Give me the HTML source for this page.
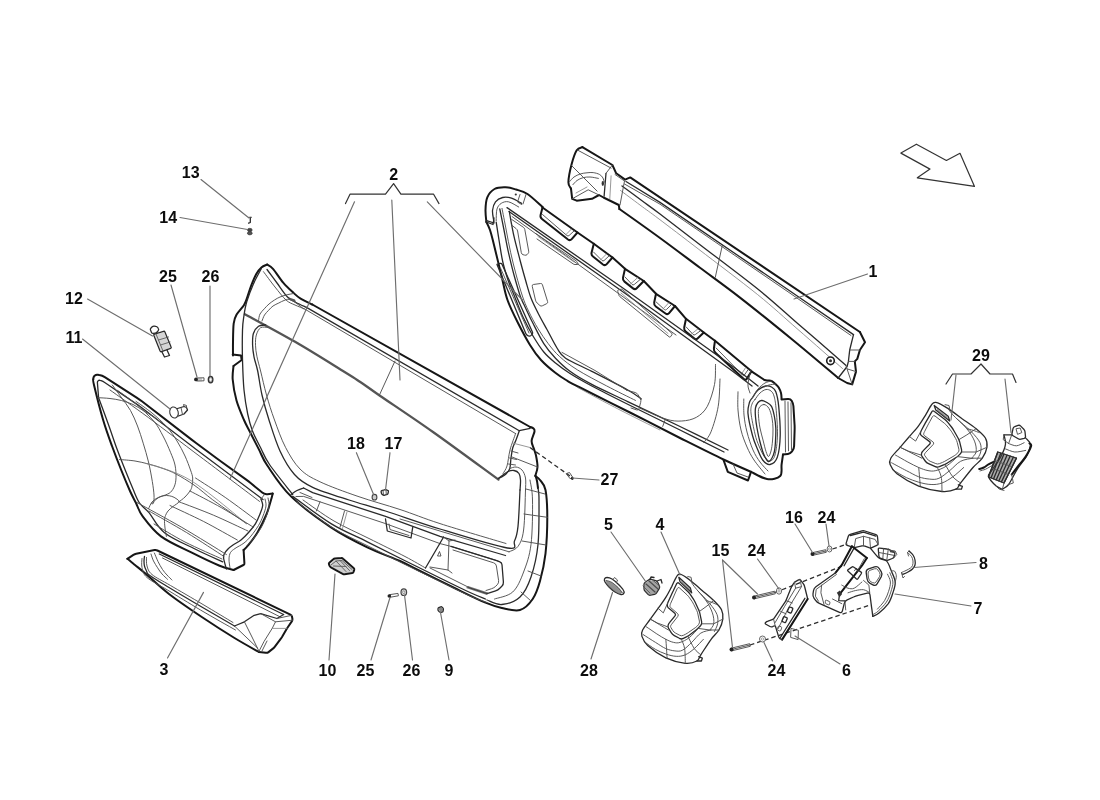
<!DOCTYPE html>
<html lang="en">
<head>
<meta charset="utf-8">
<title>Door panel parts diagram</title>
<style>
html,body{margin:0;padding:0;background:#fff;}
body{width:1100px;height:800px;overflow:hidden;font-family:"Liberation Sans",sans-serif;}
svg{display:block;filter:blur(0.45px);}
.o,.m,.t,.g,.l,.b,.d{fill:none;stroke-linecap:round;stroke-linejoin:round;}
.o{stroke:#161616;stroke-width:2;}
.m{stroke:#2a2a2a;stroke-width:1.3;}
.t{stroke:#505050;stroke-width:0.95;}
.g{stroke:#858585;stroke-width:0.85;}
.l{stroke:#6e6e6e;stroke-width:1.15;}
.b{stroke:#333;stroke-width:1.2;}
.d{stroke:#2e2e2e;stroke-width:1.3;stroke-dasharray:4.5 3;stroke-linecap:butt;}
.f{fill:#333;stroke:#222;stroke-width:0.8;}
.w{fill:#fff;}
text{font-family:"Liberation Sans",sans-serif;font-weight:bold;font-size:16px;fill:#0c0c0c;}
</style>
</head>
<body>
<svg width="1100" height="800" viewBox="0 0 1100 800">
<rect x="0" y="0" width="1100" height="800" fill="#ffffff"/>
<path class="b" d="M900.9 153.1 L916.4 144.2 L946.4 160.5 L960 153.3 L974.5 186.4 L917.3 177.8 L930 169.1Z"/>
<path class="o" d="M93.2 379.5 L93.4 378 Q93.6 376.5 94.8 375.6 L94.8 375.6 Q96 374.6 97.5 374.8 L99.3 375.1 Q102.3 375.5 104.8 377.1 L137 397.9 Q139.5 399.5 141.9 401.3 L191.6 439.6 Q194 441.4 196.4 443.2 L216.6 458.2 Q219 460 221.4 461.8 L246.2 479.6 Q248.6 481.4 250.9 483.3 L262.2 492.6 Q264.5 494.5 267.5 494.2 L272.7 493.6"/>
<path class="o" d="M272.7 493.6 C272.4 494.7 272.1 496.5 271 500 C269.9 503.5 268.7 509.1 266.4 514.5 C264.1 520 260.4 527.5 257.3 532.7 C254.2 537.9 250.3 542.6 248 545.5 C245.7 548.4 244.3 549.2 243.6 550"/>
<path class="o" d="M243.6 550 L244.4 563.3 Q244.5 564.5 243.4 565 L233.6 570"/>
<path class="o" d="M93.2 379.5 C93.3 380.4 92.4 378.3 94 385 C95.6 391.7 100 409.3 103 419.5 C106 429.7 108.9 437.5 112 446 C115.1 454.5 118.4 463 121.4 470.5 C124.4 478 127.6 485.6 130 491 C132.4 496.4 133.9 498.8 136 503 C138.1 507.2 138.5 510.8 142.7 516.4 C146.9 522 152.8 530.3 161 536.4 C169.2 542.5 182.1 547.9 191.8 552.7 C201.5 557.6 212 562.6 219 565.5 C226 568.4 231.2 569.2 233.6 570"/>
<path class="m" d="M98.6 397.7 L97.4 382.6 Q97.3 381.5 98.2 380.8 L98.2 380.8 Q99 380 100.1 380.4 L101.1 380.7 Q103 381.4 104.7 382.5 L137.8 404.9 Q139.5 406 141.1 407.2 L192.4 446.5 Q194 447.7 195.6 448.9 L263 499.5"/>
<path class="t" d="M110 390 C116.4 394.6 133.6 406.6 148.6 417.7 C163.6 428.8 181.5 442.6 200 456.5 C218.5 470.4 249.6 493.9 259.5 501.4"/>
<path class="m" d="M98.6 397.7 C100.3 402.2 105.5 416.4 108.6 425 C111.7 433.6 114.1 441.2 117 449 C119.9 456.8 123.3 465.3 126 472 C128.7 478.7 130.8 483.8 133 489 C135.2 494.2 136.8 499.1 139.5 503 C142.2 506.9 144.8 507.8 149 512.7 C153.2 517.7 156.8 526.7 164.5 532.7 C172.2 538.8 185.3 544.1 195 549 C204.7 553.9 218.1 559.7 222.7 561.8"/>
<path class="m" d="M261 499 C261.3 500.1 262.9 503 262.7 505.5 C262.5 508 261.2 511 260 514 C258.8 517 257.3 520.6 255.5 523.6 C253.7 526.6 251.4 529.3 249 532 C246.6 534.7 243.7 537.8 241 540 C238.3 542.2 235.2 543.5 233 545 C230.8 546.5 229.4 547.6 228 549 C226.6 550.4 225.2 552 224.5 553.5 C223.8 555 223.3 555.4 223.6 558 C223.9 560.6 225.9 567.2 226.4 569"/>
<path class="t" d="M265 499 C265.2 500.2 266.3 503.2 266 506 C265.7 508.8 264.2 512.8 263 516 C261.8 519.2 260.5 522.2 258.5 525.5 C256.5 528.8 253.4 533.1 251 536 C248.6 538.9 246.7 540.9 244 543 C241.3 545.1 237.2 546.9 235 548.5 C232.8 550.1 231.5 550.8 230.5 552.5 C229.5 554.2 229.1 556.4 229 559 C228.9 561.6 229.8 566.5 230 568"/>
<path class="t" d="M268 498 C268.2 499.3 269.3 502.8 269 506 C268.7 509.2 267.3 513.3 266 517 C264.7 520.7 263 524.5 261 528 C259 531.5 256.3 535.1 254 538 C251.7 540.9 248.2 544.2 247 545.5"/>
<path class="t" d="M264.5 494.5 L261 499"/>
<path class="t" d="M112.3 385 C113.8 387 118 392.8 121 397 C124 401.2 127.8 405.7 130.5 410.5 C133.2 415.3 135.4 420.6 137.5 426 C139.6 431.4 141.4 437.2 143.2 443.2 C145 449.2 147 455.6 148.5 462 C150 468.4 151.4 475.9 152.3 481.4 C153.2 486.9 153.8 491.4 154 495 C154.2 498.6 153.9 501.6 153.5 503 C153.1 504.4 152.1 503.5 151.8 503.6"/>
<path class="t" d="M117.7 390.5 C120.8 392.8 129.9 398.9 136 404 C142.1 409.1 149.5 416.1 154 421.4 C158.5 426.7 160.2 430.9 163 436 C165.8 441.1 168.5 447.5 170.5 452.3 C172.5 457.1 174.1 460.8 175 465 C175.9 469.2 176.1 474.2 176 477.7 C175.9 481.2 175.4 483.6 174.5 486 C173.6 488.4 172.2 490.7 170.5 492.3 C168.8 493.9 166.1 494.6 164 495.5 C161.9 496.4 159.7 496.6 157.7 497.7 C155.7 498.8 153.5 500.2 152 502 C150.5 503.8 149.2 507.5 148.6 508.6"/>
<path class="t" d="M136 401.4 C138.7 403.3 146.9 408.8 152 413 C157.1 417.2 162.6 422.1 166.8 426.8 C171 431.5 174 436.1 177 441 C180 445.9 182.8 451.2 185 456 C187.2 460.8 189.2 466.3 190.5 470 C191.8 473.7 192.4 475.3 192.7 478 C192.9 480.7 192.4 483.8 192 486 C191.6 488.2 191.2 489.2 190 491 C188.8 492.8 186.8 495.2 185 497 C183.2 498.8 180 501 179 501.8"/>
<path class="t" d="M97.7 397.7 C99.8 397.8 106 398 110 398.5 C114 399 117.6 399.5 121.4 400.5 C125.2 401.5 129.4 402.8 133 404.5 C136.6 406.2 139.9 408.5 143.2 410.5 C146.5 412.5 150 414.4 153 416.5 C156 418.6 160 421.9 161.4 423"/>
<path class="t" d="M119.5 459.5 C122.1 459.8 130.2 460.2 135 461 C139.8 461.8 143.9 462.8 148.6 464 C153.3 465.2 158.4 466.8 163 468.5 C167.6 470.2 170.8 471.2 176 474 C181.2 476.8 187.9 480.8 194 485 C200.1 489.2 206.3 495 212.3 499.5 C218.3 504 224.3 508 230 512 C235.7 516 243.7 521.7 246.4 523.6"/>
<path class="g" d="M146.4 463.6 C150 464.7 160.7 467.3 168 470 C175.3 472.7 182.2 475.3 190 480 C197.8 484.7 205.6 490.7 215 498 C224.4 505.3 241.2 519.3 246.4 523.6"/>
<path class="t" d="M151.8 503.6 C152.5 502.9 154.5 500.7 156 499.5 C157.5 498.3 159.2 497.1 161 496.4 C162.8 495.7 164.7 495.5 166.5 495.5 C168.3 495.5 170.2 495.9 171.8 496.4 C173.4 496.9 174.8 497.6 176 498.5 C177.2 499.4 179.5 500.5 179 501.8 C178.5 503.1 174.8 505 173 506.5 C171.2 508 169.2 509.5 168 511 C166.8 512.5 166.1 514 165.5 515.5 C164.9 517 164.6 517.9 164.5 520 C164.4 522.1 164.7 525.3 165 528 C165.3 530.7 166.2 535 166.4 536.4"/>
<path class="t" d="M137.3 502.7 C144.7 506.8 167 518.8 181.9 527.4 C196.7 536 219 550 226.4 554.5"/>
<path class="t" d="M149 511 C155.2 514.6 174 525 186.5 532.5 C199 540.1 217.8 552.5 224 556.5"/>
<path class="t" d="M170 505.5 C175.6 508.2 192.4 515.8 203.7 521.5 C214.9 527.3 231.7 536.9 237.3 540"/>
<path class="t" d="M179 501.8 C184.8 504 202 510.3 213.5 515.2 C225 520.1 242.2 528.4 248 531"/>
<path class="t" d="M190 491 C195.3 493.8 211.2 501.9 221.8 507.9 C232.4 514 248.3 524.1 253.6 527.3"/>
<path class="t" d="M195.5 478 C200.5 481.3 215.7 490.8 225.8 497.8 C235.8 504.8 251 516.3 256 520"/>
<path class="t" d="M154 524 C159.2 527 173.7 536.2 185 542 C196.3 547.8 215.8 556.2 222 559"/>
<path class="o" d="M127.4 558.8 L133.4 554.8 Q134.7 554 136.2 553.7 L154.5 550.1 Q156 549.8 157.4 550.5 L290.4 614.6 Q291.8 615.3 292 616.8 L292.4 618.7 Q292.6 620.2 291.8 621.4 L287.8 627.2 Q287 628.4 286.2 629.7 L282 636.9 Q281.2 638.2 280.3 639.4 L274.7 646.8 Q273.8 648 272.6 648.9 L268.5 652.1 Q267.3 653 265.8 652.8 L259 652"/>
<path class="o" d="M127.4 558.8 C128.7 559.8 132.2 562.7 135 565 C137.8 567.3 138.8 567.9 144.5 572.7 C150.2 577.5 159.4 586.6 169 594 C178.6 601.4 190.9 609.7 201.8 617 C212.7 624.3 225 632.2 234.5 638 C244 643.8 254.9 649.7 259 652"/>
<path class="m" d="M159.3 554 L283.6 614.5"/>
<path class="t" d="M162.5 558 L280.4 617"/>
<path class="m" d="M144.5 556.4 C144.4 557.2 144 559.4 144 561 C144 562.6 144.1 564.5 144.5 566.2 C144.9 567.9 145.7 569.5 146.5 571 C147.3 572.5 145.8 572.5 149.5 575.2 C153.2 578 160.3 582.2 169 587.5 C177.7 592.8 190.9 600.6 201.8 607 C212.7 613.4 229.1 622.8 234.5 626"/>
<path class="m" d="M234.5 626 L244.4 621.8 L254.2 615.3 L260.7 613.6 L277 618.5 L283.6 614.5"/>
<path class="t" d="M146.5 557.5 C146.6 558.9 146.1 563.2 147 566 C147.9 568.8 148.1 571.2 152 574.5 C155.9 577.8 162 580.5 170.5 585.5 C179 590.5 192.6 598.3 203 604.5 C213.4 610.7 228 619.5 233 622.5"/>
<path class="t" d="M142 558.5 C142 560 141.2 564.3 142 567.5 C142.8 570.7 142.8 573.8 147 577.5 C151.2 581.2 158.6 584.6 167.5 590 C176.4 595.4 189.2 603.3 200.5 610 C211.8 616.7 229.7 626.7 235.5 630"/>
<path class="t" d="M151 554 C151.4 555.2 152.4 558.7 153.5 561 C154.6 563.3 156.2 565.6 157.6 567.8 C159 570 160.3 572.1 162 574 C163.7 575.9 166.6 578.4 167.5 579.3"/>
<path class="t" d="M154.4 553 C155 554.4 156.7 558.8 158 561.5 C159.3 564.2 161 567.2 162.5 569.5 C164 571.8 165.4 573.2 167 575 C168.6 576.8 171.2 579.2 172 580"/>
<path class="t" d="M260.7 613.6 L275.5 621.8 L272.2 628.4 L264 641.5 L259 651.3"/>
<path class="t" d="M275.5 621.8 L292.6 620.2"/>
<path class="t" d="M277 618.5 L291.8 615.3"/>
<path class="t" d="M234.5 626 L257.5 648"/>
<path class="t" d="M244.4 621.8 L252 637 L259 651.3"/>
<path class="g" d="M272.2 628.4 L287 628.4"/>
<path class="t" d="M267 641 L262 651"/>
<path class="o" d="M267.2 264.5 C268.2 265.2 270.3 265.8 273 268.8 C275.7 271.8 279.8 278.6 283.2 282.6 C286.6 286.6 290.5 290.1 293.4 292.8 C296.3 295.5 297.5 296.7 300.6 298.6 C303.8 300.6 310.4 303.5 312.3 304.5"/>
<path class="o" d="M312.3 304.5 L530.2 427"/>
<path class="o" d="M530.2 427 C530.8 427.2 532.8 427.8 533.5 428.5 C534.2 429.2 534.8 429.4 534.5 431.5 C534.2 433.6 531.7 438.1 531.6 441 C531.5 443.9 533.3 446.6 534 449 C534.7 451.4 535.4 452.5 536 455.5 C536.6 458.5 537.6 463.6 537.5 467 C537.4 470.4 535.7 474.3 535.3 475.8"/>
<path class="o" d="M267.2 264.5 C266.2 265 263.2 265.8 261.4 267.4 C259.6 269 258 270.9 256.3 273.9 C254.6 276.9 252.8 281.4 251.2 285.5 C249.6 289.6 248 295.3 246.8 298.6 C245.6 301.9 245.6 302.5 243.9 305.2 C242.2 307.9 238.3 311.6 236.6 314.6 C234.9 317.6 234.3 318.8 233.7 323.4 C233.1 328 233.1 337 233 342.3 C232.9 347.6 233 353.2 233 355.4"/>
<path class="o" d="M232.7 354.5 L241 355.5 L241.7 360 L233.5 366"/>
<path class="o" d="M233.5 366 C233.4 368.2 232.2 373.8 232.7 379.5 C233.2 385.2 234.6 393.8 236.5 400.5 C238.4 407.2 241.8 414.8 244 420 C246.2 425.2 247.5 427.1 250 432 C252.5 436.9 256.1 444 259 449.6 C261.9 455.2 262 457.7 267.3 465.5 C272.6 473.3 280.4 486.1 291 496.4 C301.6 506.7 318.3 518.8 331 527.3 C343.7 535.8 355.8 541.7 367.3 547.3 C378.8 552.9 391.6 557.2 400 561 C408.4 564.8 408.9 565.5 418 570 C427.1 574.5 443.2 582.5 454.5 588 C465.8 593.5 477.6 599.4 485.5 602.7 C493.4 606 496.1 606.8 501.8 608 C507.6 609.2 514.9 611.5 520 610 C525.1 608.5 529.4 603.8 532.7 599 C536 594.2 537.9 588.6 540 581 C542.1 573.4 544.3 564.2 545.5 553.6 C546.7 543 547.3 527.9 547.3 517.3 C547.3 506.7 546.7 496.2 545.5 490 C544.3 483.8 541.7 482.3 540 480 C538.3 477.7 536.2 476.7 535.5 476"/>
<path class="o" d="M535.5 476 C535.8 476.8 536.6 479 537 481 C537.4 483 537.8 486.8 538 488"/>
<path class="m" d="M267 269.5 C268.7 271.8 273.6 278.4 277 283 C280.4 287.6 284.3 293.8 287.5 297 C290.7 300.2 292.8 300.8 296 302.5 C299.2 304.2 304.8 306.6 306.5 307.4"/>
<path class="m" d="M306.5 307.4 L519.3 430.7 L530.2 428.3"/>
<path class="t" d="M263.5 271.7 C265.4 274.2 271.2 282.3 275 287 C278.8 291.7 282.7 297 286 300 C289.3 303 291.9 303.5 295 305 C298.1 306.5 302.8 308.2 304.3 308.8"/>
<path class="t" d="M304.3 308.8 L515.6 433.6"/>
<path class="m" d="M519.3 430.7 C518.8 432.2 517.1 437.1 516 440 C514.9 442.9 513.5 445 512.7 448 C511.9 451 511.5 454.6 511 458 C510.5 461.4 510.6 465.8 509.8 468.5 C509 471.2 507.5 472.5 506 474 C504.5 475.5 502.3 476.5 501 477.3 C499.7 478.1 498.5 478.5 498 478.7"/>
<path class="t" d="M515.6 433.6 C514.7 436.3 511.4 444.6 510 450 C508.6 455.4 508.2 462.1 507 466 C505.8 469.9 503.7 472.2 503 473.5"/>
<path class="m" style="stroke:#555;stroke-width:2.3" d="M244.9 314.2 C253.3 318.8 278.5 332.2 295.1 341.8 C311.7 351.4 333.7 365.3 344.6 372 C355.5 378.7 354.4 378.1 360.3 382 C366.2 385.9 367.8 387.4 379.9 395.7 C392 404 413.2 418 433 432 C452.8 446 487.6 471.7 498.5 479.6"/>
<path class="m" d="M498.2 478.6 C499 478 501.4 476.2 503 475 C504.6 473.8 506.2 472.2 508 471.5 C509.8 470.8 512.2 470.2 514 470.5 C515.8 470.8 517.9 471.9 519 473.5 C520.1 475.1 520.3 477.2 520.5 480 C520.7 482.8 520.1 488.3 520 490"/>
<path class="t" d="M509.8 468.5 C510.8 468.2 514 466.8 516 467 C518 467.2 520.4 468.2 522 470 C523.6 471.8 524.9 474.7 525.5 478 C526.1 481.3 525.5 488 525.5 490"/>
<path class="t" d="M509.5 458 L516.5 459.5"/>
<path class="t" d="M511 451 L518 453"/>
<path class="t" d="M508.5 464 L515.5 465"/>
<path class="t" d="M258.5 320.5 C258.8 319.4 259 315.9 260 314 C261 312.1 262.8 310.5 264.3 308.8 C265.8 307.1 267.3 305.5 269 304 C270.7 302.5 272.7 301.2 274.5 300 C276.3 298.8 278.1 297.8 280 297 C281.9 296.2 283.8 295.6 286 295 C288.2 294.4 292.2 293.8 293.4 293.5"/>
<path class="t" d="M262 321 C262.4 320 263.4 316.8 264.5 315 C265.6 313.2 267.2 311.8 268.6 310.3 C270 308.8 271.3 307.2 273 306 C274.7 304.8 277 303.9 278.8 303 C280.6 302.1 282.3 301.1 284 300.5 C285.7 299.9 287 299 289 299.4 C291 299.8 293.6 301.4 296 303 C298.4 304.6 302.2 307.8 303.5 308.8"/>
<path d="M289 297.5 L295 299.5 L296 302 L290.5 300.5Z" fill="#555" stroke="none"/>
<path class="t" d="M395 361 L379.6 394.7"/>
<path class="m" d="M261.4 268.5 C260.1 271.1 255.8 278.5 253.4 284 C251 289.5 248.4 296.2 246.8 301.5 C245.2 306.8 244.6 311.2 243.9 316 C243.2 320.8 242.7 322.7 242.5 330 C242.3 337.3 242.2 350 242.5 360 C242.8 370 243.1 381 244 390 C244.9 399 246.3 407.2 247.7 414 C249.1 420.8 250.3 425.2 252.5 431 C254.7 436.8 258.2 442.9 261 448.5 C263.8 454.1 264.2 456.8 269.5 464.5 C274.8 472.2 288.8 489.5 292.7 494.5"/>
<path class="m" d="M265.7 324.8 C264.5 325.1 260.6 324.9 258.5 326.3 C256.4 327.8 254.4 330.4 253.4 333.5 C252.4 336.6 252.5 341.3 252.6 345.2 C252.7 349.1 253.2 352.5 254 356.8 C254.8 361.1 256.4 364.6 257.7 371 C259 377.4 260.1 386.8 262 395 C263.9 403.2 266 410.7 269 420 C272 429.3 275.8 441.9 280 451 C284.2 460.1 289.1 468.4 294.5 474.5 C299.9 480.6 303.6 483.1 312.7 487.3 C321.8 491.6 336.9 496.1 349 500 C361.1 503.9 370.3 506.2 385.5 511 C400.7 515.8 419.7 522.8 440 529 C460.3 535.2 494.9 546 507.3 548 C519.7 550 512.7 544.6 514.5 541 C516.3 537.4 517.1 534.9 518 526.4 C518.9 517.9 519.7 496.1 520 490"/>
<path class="t" d="M268 327.5 C266.8 327.5 262.6 326.4 260.6 327.7 C258.7 328.9 257.2 332.1 256.3 335 C255.5 337.9 255.4 341.6 255.5 345.2 C255.6 348.8 256.1 352.5 257 356.8 C257.9 361.1 259 364.6 260.6 371 C262.2 377.4 264.2 386.8 266.5 395 C268.8 403.2 271.3 411.3 274.5 420 C277.7 428.7 281.2 439.1 285.5 447.3 C289.8 455.5 294.2 463.2 300 469 C305.8 474.8 310.3 477.2 320 481.8 C329.7 486.4 344.7 491.8 358 496.4 C371.3 501 386.3 505 400 509.5 C413.7 514 422.3 517.9 440 523.6 C457.7 529.3 495 540.2 506 543.5"/>
<path class="t" d="M525.5 490 C525.2 496.7 524.9 520.6 523.6 530 C522.4 539.4 520.4 542.8 518 546.4 C515.6 550 510.5 550.9 509 551.8"/>
<path class="t" d="M509 551.8 L400 519"/>
<path class="m" d="M291 494.5 C292 493.8 294.9 491.6 297 490.5 C299.1 489.4 302.5 488.4 303.6 488"/>
<path class="m" d="M303.6 488 L312.7 492.7 L385.5 516.4 L440 536.4 L505.5 555.5"/>
<path class="t" d="M296 496.5 L303.6 496.4 L385.5 523.6 L440 543.6 L451 546.4 L498 561"/>
<path class="t" d="M300 492.5 L312 497.5"/>
<path class="m" d="M292.7 496.4 C299.1 500.9 318.6 516 331 523.6 C343.4 531.2 355.2 535.7 367.3 541.8 C379.4 547.9 391.5 554 403.6 560 C415.7 566 428.9 572.6 440 578 C451.1 583.4 462.4 589 470 592.5 C477.6 596 482.9 597.9 485.5 599"/>
<path class="t" d="M297 502 C302.8 506.2 320.2 520.2 332 527.5 C343.8 534.8 356 539.9 368 546 C380 552.1 392 558.1 404 564 C416 569.9 429 576.2 440 581.5 C451 586.8 462.2 592.5 470 596 C477.8 599.5 484.2 601.4 487 602.5"/>
<path class="t" d="M303 500 C308.2 503.5 323 514.6 334 521 C345 527.4 357.2 532.6 369 538.5 C380.8 544.4 395.6 551.6 405 556.5 C414.4 561.4 422.1 566.1 425.5 568"/>
<path class="t" d="M320 501.8 L316.4 511"/>
<path class="t" d="M344.5 511 L340 527.3"/>
<path class="g" d="M347 512 L342.5 528.5"/>
<path class="m" d="M385.5 519 L387.3 531 L411 538 L412.7 527.3"/>
<path class="t" d="M389 524 L390 529.5 L409 535.5"/>
<path class="m" d="M451 546.4 L496 560.4 Q498 561 499.9 561.9 L499.9 561.9 Q501.8 562.7 502 564.8 L503.4 582 Q503.6 584.5 501.8 586.3 L499.8 588.2 Q498 590 495.6 590.8 L487 593.6"/>
<path class="t" d="M453 550 L493.6 562.8 Q496 563.5 496.4 566 L498.6 580.5 Q499 583 497.2 584.8 L495.8 586.2 Q494 588 491.6 588.7 L486 590.5"/>
<path class="t" d="M487 593.6 L470 588 L430 568"/>
<path d="M468 586 L488 592.5 L487 595 L466 588Z" fill="#333" stroke="none" opacity="0.7"/>
<path class="m" d="M443.6 537 L425.5 568"/>
<path class="t" d="M449 541 L448 570"/>
<path class="t" d="M443.6 537 L449 541 L455 540"/>
<path class="t" d="M430 567 L448 570 L452 573"/>
<path d="M437.5 556 L439.5 551.5 L441 556Z" fill="none" stroke="#333" stroke-width="0.8"/>
<path class="m" d="M538 488 C538.2 490 539 490.6 539 500 C539 509.4 539.3 531.7 538 544.5 C536.7 557.3 534 568.2 531 577 C528 585.8 524.9 592.4 520 597 C515.1 601.6 507.3 604 501.8 604.5 C496.3 605 489.5 600.8 487 600"/>
<path class="t" d="M530 480 C530.4 483.3 532.3 489.2 532.5 500 C532.7 510.8 532.5 532.5 531 544.5 C529.5 556.5 526.6 564.1 523.6 572 C520.6 579.9 517.6 587.5 512.7 592 C507.9 596.5 497.5 597.8 494.5 599"/>
<path class="t" d="M537.5 467 L512 457"/>
<path class="t" d="M545 494 L526 489"/>
<path class="t" d="M547.3 517.3 L524 514"/>
<path class="t" d="M546 545 L522 541"/>
<path class="t" d="M541 576 L528 571"/>
<path class="t" d="M531 601 L521 592"/>
<path class="b" d="M345.5 203.6 L350 194.2 L385.5 194.2 L393.6 183.6 L400.9 194.2 L433.6 194.2 L439 203.6"/>
<path class="b" d="M946 384 L952.5 374 L971 374 L981 364 L990 374 L1012.5 374 L1016 382.5"/>
<path class="o" d="M859.9 332 L630.2 177.4 L625.1 179.6 L616.2 173.3 L612.4 165 L582.4 147.1"/>
<path class="o" d="M582.4 147.1 C581.5 147.6 578.5 147.4 576.7 150.3 C574.9 153.2 573 159 571.6 164.3 C570.2 169.6 568.5 178.1 568.4 182.2 C568.3 186.2 570.6 187.5 571 188.6"/>
<path class="o" d="M571 188.6 L572.2 198.8 L576.7 200.7 L592 198.8 L599 195 L603.5 197.5 L618.8 205 L619.4 209"/>
<path class="o" d="M619.4 209 C626.2 213.8 646.6 228.2 660 238 C673.4 247.8 686.7 257.9 700 267.8 C713.3 277.7 724.8 285.8 740 297.6 C755.2 309.4 774.6 325.1 791 338.5 C807.4 351.9 830.3 371.4 838.2 378"/>
<path class="o" d="M859.9 332 L865 342.3 L859.9 350 L857.3 358.9 L854.8 361.4 L856 371.6 L852.2 384.4 L847.1 383 L838.2 378"/>
<path class="m" d="M626 181.5 L660 202.4 L788.5 290 L853.5 334.6"/>
<path class="t" d="M624.5 184 L660 204.2 L788 291.8 L851 335.5"/>
<path class="m" d="M622 186 C625.2 188.3 634.7 195.3 641 200 C647.3 204.7 650.2 206.6 660 214 C669.8 221.4 683.5 232 700 244.7 C716.5 257.4 742.3 276.5 759 290 C775.7 303.5 785.5 313 800 325.5 C814.5 338 838.2 358.6 845.8 365.2"/>
<path class="g" d="M620.5 190.5 C623.8 192.9 633.6 200.2 640 205 C646.4 209.8 649.2 211.6 659 219 C668.8 226.4 682.6 236.9 699 249.5 C715.4 262.1 741 281.2 757.5 294.5 C774 307.8 783.8 317.2 798 329.5 C812.2 341.8 835.1 362 842.5 368.5"/>
<path class="t" d="M722.5 244.5 L715.3 277.3"/>
<path class="t" d="M578 150.3 L611.1 168.1"/>
<path class="t" d="M569.7 181.5 C570.4 180.8 572.2 178.3 574 177 C575.8 175.7 578.3 174.6 580.5 173.9 C582.7 173.2 584.9 173 587 172.8 C589.1 172.6 591.1 172.3 593.2 172.6 C595.3 172.9 598 173.6 599.6 174.5 C601.2 175.4 602.2 176.7 603 178 C603.8 179.3 603.9 181.5 604.1 182.2"/>
<path class="t" d="M572.9 184.7 C573.6 184 575.3 181.7 577 180.5 C578.7 179.3 580.8 178.3 583 177.7 C585.2 177.1 587.4 176.9 590 177 C592.6 177.1 597 178.2 598.4 178.4"/>
<path class="t" d="M571.6 165.6 L597.1 191.1"/>
<path class="t" d="M572.2 198.8 L588.2 189.8 L599 195"/>
<path class="g" d="M576 193 L587 187"/>
<path class="m" d="M606 173.3 L604.1 196.2"/>
<path class="g" d="M611.1 175.8 L609.8 198.8"/>
<path class="t" d="M612.4 165 L606 173.3"/>
<path class="t" d="M615 174.5 L624.5 181"/>
<path class="t" d="M624.5 181 L620 205"/>
<ellipse cx="602.8" cy="183.5" rx="1.2" ry="2.4" fill="#333"/>
<path class="m" d="M853.5 334.6 L849.7 350 L848.4 361.4 L847.1 366.5 L838.2 378"/>
<path class="t" d="M849.7 350 L859.9 350"/>
<path class="t" d="M848.4 361.4 L854.8 361.4"/>
<path class="t" d="M847.5 369 L856 371.6"/>
<path class="t" d="M845.8 365.2 L852.2 384.4"/>
<circle cx="830.5" cy="360.8" r="3.8" fill="#fff" stroke="#1c1c1c" stroke-width="1.6"/>
<circle cx="830.5" cy="360.8" r="1.5" fill="#333"/>
<path class="o" d="M486.4 222 C486.2 220 485.4 214.1 485.5 210 C485.6 205.9 485.8 200.8 487.3 197.3 C488.8 193.8 491.5 190.7 494.5 189 C497.5 187.3 501.9 187.2 505.5 187.3 C509.1 187.4 512.3 188.4 516 189.5 C519.7 190.6 523.1 191.1 527.5 194 C531.9 196.9 540 204.8 542.5 207"/>
<path class="o" d="M542.5 207 L542.5 207.5 L577.5 232.5 L593.8 243.8 L612.5 257.5 L625 268.8 L643.8 281 L656 293.8 L675 306 L686 318.8 L703.8 332.5 L715 340.7 L751.5 371.3 L764.5 380"/>
<path class="o" d="M542.5 207.5 L540.6 215.1 Q540 217.5 542 219 L568 239.5 Q570 241 571.7 239.1 L577.5 232.5"/>
<path class="t" d="M542.5 214.5 L566.9 235.5 Q568 236.5 569.1 235.5 L574 231"/>
<path class="g" d="M565.5 235 L571.5 229"/>
<path class="o" d="M593.8 243.8 L591.6 252.6 Q591 255 593 256.5 L603 264.5 Q605 266 606.7 264.1 L612.5 257.5"/>
<path class="t" d="M593.5 252 L601.9 260.4 Q603 261.5 604.1 260.5 L609 256"/>
<path class="g" d="M600.5 260 L606.5 254"/>
<path class="o" d="M625 268.8 L623 277.6 Q622.5 280 624.5 281.6 L633 288.4 Q635 290 636.7 288.2 L643.8 281"/>
<path class="t" d="M625 277 L632 284.4 Q633 285.5 634.2 284.5 L640.2 279.5"/>
<path class="g" d="M630.5 284 L637.8 277.5"/>
<path class="o" d="M656 293.8 L654.2 302.5 Q653.8 305 655.8 306.5 L665.5 313.5 Q667.5 315 669.1 313.1 L675 306"/>
<path class="t" d="M656.2 302 L664.4 309.5 Q665.5 310.5 666.6 309.4 L671.5 304.5"/>
<path class="g" d="M663 309 L669 302.5"/>
<path class="o" d="M686 318.8 L684.2 327.5 Q683.8 330 685.7 331.6 L694.1 338.4 Q696 340 697.8 338.3 L703.8 332.5"/>
<path class="t" d="M686.2 327 L693 334.4 Q694 335.5 695.2 334.6 L700.2 331"/>
<path class="g" d="M691.5 334 L697.8 329"/>
<path class="o" d="M715 340.7 L713.9 348.5 Q713.6 351 715.4 352.7 L743.8 379 Q745.6 380.7 746.9 378.6 L751.5 371.3"/>
<path class="t" d="M716.1 348 L742.6 375.1 Q743.6 376.2 744.4 375 L748 369.8"/>
<path class="g" d="M741.1 374.7 L745.5 367.8"/>
<path class="o" d="M764.5 380 C765.1 380.1 766.8 380.3 768 380.5 C769.2 380.7 770.2 380.4 771.5 381 C772.8 381.6 774.3 382.9 775.5 384 C776.7 385.1 777.8 386 778.7 387.5 C779.6 389 780.5 391.1 781 393 C781.5 394.9 781.5 398 781.6 399"/>
<path class="o" d="M781.6 399.5 L787.9 399 Q790.4 398.8 791.7 400.9 L792 401.4 Q793.3 403.5 793.4 406 L794.6 425.5 Q794.7 428 794.6 430.5 L794.1 446 Q794 448.5 792.6 450.5 L791.8 451.6 Q790.4 453.6 787.9 453.9 L783 454.4"/>
<path class="o" d="M783 454.4 C782.8 456.1 782.1 460.9 781.6 464.5 C781.1 468.1 782.6 473.6 780.2 476 C777.8 478.4 771.9 479.7 767 479 C762.1 478.3 753.7 473 751 471.8"/>
<path class="o" d="M751 471.8 L748 480.5 L727.8 471.8 L723.5 460"/>
<path class="o" d="M751 471.8 C746.4 469.8 735.3 465.1 723.5 459.5 C711.7 453.9 695.6 445.8 680 438 C664.4 430.2 646.7 420.9 630 412.5 C613.3 404.1 590.7 392.9 580 387.5 C569.3 382.1 570.2 382.5 566 380 C561.8 377.5 559.2 375.8 555 372.5 C550.8 369.2 545.2 364.6 541 360 C536.8 355.4 533.8 351.2 530 345 C526.2 338.8 521.8 330.5 518 323 C514.2 315.5 510.2 307.6 507.5 300 C504.8 292.4 504.1 286.5 501.8 277.3 C499.6 268.1 496 252.9 494 245 C492 237.1 491.3 233.8 490 230 C488.7 226.2 487 223.3 486.4 222"/>
<path class="m" d="M486.4 222 L493 224.5 L494 218"/>
<path class="m" d="M494 222.2 C493.8 220.2 492.2 213.9 492.5 210.5 C492.8 207.1 493.8 204 495.5 201.8 C497.2 199.6 500 198.1 502.7 197.5 C505.4 196.9 508.4 197.2 511.5 198.2 C514.6 199.2 519.9 202.5 521.6 203.3"/>
<path class="t" d="M496.2 220.7 C496.3 218.8 496.1 211.9 497 209 C497.9 206.1 499.4 204.5 501.3 203.3 C503.2 202.1 505.6 201.2 508.5 201.8 C511.4 202.4 517 206.1 518.7 207"/>
<path class="m" d="M486.7 220.7 L494 223"/>
<path class="t" d="M520 194.5 L517.5 202 L521.6 204.5"/>
<path class="t" d="M526 194.5 L523 204"/>
<circle cx="515.8" cy="194.5" r="1.1" fill="#333"/>
<path class="m" d="M496.2 222.2 C496.7 225.2 497.9 233.4 499 240 C500.1 246.6 501.2 254.8 502.7 261.5 C504.2 268.2 506.1 274.2 508 280 C509.9 285.8 511.9 289.8 514.4 296 C516.9 302.2 519.9 310.3 523 317 C526.1 323.7 529.5 330.2 533 336 C536.5 341.8 540 347.5 543.8 352 C547.5 356.5 551.1 359.4 555.5 363 C559.9 366.6 564 369.7 570 373.5 C576 377.3 582.1 380.8 591.8 386 C601.5 391.2 613.5 397.2 628.2 404.5 C642.9 411.8 664 422.1 680 430 C696 437.9 716.7 448.3 724 452"/>
<path class="m" d="M499.8 209 C500.5 212.5 502.6 222.7 504 230 C505.4 237.3 506.8 245.2 508.5 252.7 C510.2 260.2 512 267.8 514 275 C516 282.2 518.5 291 520.2 296 C521.9 301 522.2 300.7 524.2 305 C526.2 309.3 528.9 315.4 532.2 321.8 C535.5 328.2 539.9 337.5 543.8 343.6 C547.7 349.7 551.1 353.6 555.5 358.2 C559.9 362.8 564 366.9 570 371.3 C576 375.7 582.1 379.3 591.8 384.4 C601.5 389.5 613.5 394.8 628.2 401.8 C642.9 408.8 663.4 418.5 680 426.5 C696.6 434.5 720 446.1 728 450"/>
<path class="t" d="M502 208.4 C502.7 212 504.8 222.6 506.2 230 C507.6 237.4 509 245.2 510.7 252.7 C512.4 260.2 514.2 267.8 516.2 275 C518.2 282.2 520.4 290 522.4 296 C524.4 302 525.9 305.6 528.5 311 C531.1 316.4 534.7 323.3 538 328.7 C541.3 334.1 544.6 338.9 548.2 343.6 C551.8 348.3 554.9 352.3 559.8 356.7 C564.6 361.1 569.5 364.9 577.3 369.8 C585.1 374.7 596.7 380.7 606.4 385.8 C616.1 390.9 630.6 398 635.5 400.4"/>
<path class="m" d="M509.3 211.3 C509.7 213.4 510.6 219.5 511.5 224 C512.4 228.5 513 232.2 514.4 238.2 C515.8 244.2 518.1 252.7 520 260 C521.9 267.3 524.2 275.5 526 281.8 C527.8 288.1 529 292.8 531 298 C533 303.2 535.4 307.8 538 313 C540.6 318.2 543.5 323.2 546.7 329 C549.9 334.8 553.9 343.1 557 348 C560.1 352.9 559.8 354.3 565.6 358.2 C571.4 362.1 581.4 366 591.8 371.3 C602.2 376.6 620 385.6 628.2 390.2 C636.5 394.8 639.1 397.5 641.3 399"/>
<path class="g" d="M577.3 387.3 C581.1 389.3 592.7 395.6 600 399.5 C607.3 403.4 611 405.4 621 410.5 C631 415.6 653.5 426.8 660 430"/>
<path class="t" d="M626.7 390.2 L635.1 392.5 Q637 393 638 394.7 L640.3 398.7 Q641.3 400.4 640.7 402.3 L639 408.6 Q638.4 410.5 636.5 409.9 L631 408"/>
<path class="t" d="M562 352.4 L595 370.5 L626.7 390.2"/>
<path class="m" d="M507 207.6 L626.4 290.5 L735 368 L758 386"/>
<path class="m" d="M509 211.5 L626 294 L733 371.5 L752 386"/>
<path class="t" d="M512 216.5 L624 297.5 L676 335"/>
<path class="t" d="M511.5 219.3 L523.3 227.2 Q524.5 228 524.8 229.5 L528.7 251.2 Q529 252.7 527.9 253.7 L527.1 254.6 Q526 255.6 524.6 255.1 L523 254.7 Q521.6 254.2 521.3 252.7 L517.6 231 Q517.3 229.5 516.1 228.6 L511.5 225"/>
<path class="t" d="M532.2 286.2 Q531.8 284.7 533.3 284.5 L540.5 283.5 Q542 283.3 542.4 284.7 L547.6 301.6 Q548 303 546.7 303.7 L542.3 305.8 Q541 306.5 539.9 305.5 L537.1 303 Q536 302 535.6 300.5Z"/>
<path class="m" d="M497 264.4 L500.1 263.4 Q501.5 263 502.1 264.4 L532.4 332.1 Q533 333.5 531.9 334.6 L531.1 335.4 Q530 336.5 528.6 335.9 L527.8 335.6 Q526.4 335 525.8 333.6 L497 264.4"/>
<path class="t" d="M500.5 268 L529 333"/>
<path class="t" d="M536.2 233.8 L576.2 260.9 Q577 261.5 577.4 262.4 L578.1 263.6 Q578.5 264.5 577.5 264.5 L575 264.5 Q574 264.5 573.2 263.9 L537 239"/>
<path class="g" d="M538 236.5 L574 262"/>
<path class="t" d="M617.7 291 Q617.5 290 618.5 289.8 L621 289.2 Q622 289 622.7 289.7 L671.8 333.3 Q672.5 334 671.9 334.8 L670.6 336.7 Q670 337.5 669.2 336.9 L619.8 296.6 Q619 296 618.8 295Z"/>
<path class="g" d="M621 293 L668 333.5"/>
<path class="t" d="M715.5 364.5 C715.3 367.8 715.9 377.5 714.5 384.5 C713.1 391.5 710.3 400.9 707.3 406.4 C704.3 411.9 700.6 414.9 696.4 417.3 C692.1 419.7 686.9 420.7 681.8 421 C676.6 421.3 672.5 421.1 665.5 419 C658.5 416.9 644.2 410 640 408.2"/>
<path class="t" d="M720 379 C719.7 383.6 719.7 397.6 718.2 406.4 C716.7 415.2 713.4 425.8 711 431.8 C708.6 437.9 704.8 440.9 703.6 442.7"/>
<path class="t" d="M665.5 419 L662.7 426.4"/>
<path class="m" d="M752.5 397.6 C753.9 395.6 755.8 391.9 758 390 C760.2 388.1 763.4 386.5 765.6 386 C767.9 385.5 769.8 386 771.5 387 C773.2 388 774.6 388.6 775.8 391.8 C777 395 778 399.1 778.7 406.4 C779.4 413.7 780.4 427 780.2 435.5 C780 444 779 452.5 777.3 457.3 C775.6 462.1 772.4 464.1 770 464.5 C767.6 464.9 764.9 462.8 762.7 460 C760.5 457.2 758.7 452.1 757 448 C755.3 443.9 754 441.2 752.5 435.5 C751 429.8 748.5 419.2 748 413.6 C747.5 408 748.9 404.7 749.6 402 C750.4 399.3 751.1 399.6 752.5 397.6Z"/>
<path class="t" d="M755 399.5 C756.3 397.7 758.2 394.7 760 393 C761.8 391.3 764.2 389.8 766 389.5 C767.8 389.2 769.7 389.9 771 391 C772.3 392.1 773.2 393.2 774 396 C774.8 398.8 775.4 401.5 776 408 C776.6 414.5 777.7 427.2 777.5 435 C777.3 442.8 776.2 450.7 775 455 C773.8 459.3 771.8 460.7 770 461 C768.2 461.3 766.3 459.5 764.5 457 C762.7 454.5 760.6 449.8 759 446 C757.4 442.2 756.3 439.5 755 434 C753.7 428.5 751.5 418 751 413 C750.5 408 751.3 406.2 752 404 C752.7 401.8 753.7 401.3 755 399.5Z"/>
<path class="m" d="M761.3 400.5 C762.6 400.4 764.3 401 766 402 C767.7 403 770.1 403.9 771.5 406.4 C772.9 408.9 773.8 413.4 774.5 417 C775.2 420.6 775.6 424 775.8 428 C776 432 775.7 437.1 775.5 441 C775.3 444.9 775 448.7 774.4 451.5 C773.8 454.3 773 456.3 772 458 C771 459.7 769.7 461.8 768.5 461.6 C767.3 461.4 766 458.7 765 457 C764 455.3 763.6 454.3 762.7 451.5 C761.8 448.7 760.5 443.9 759.5 440 C758.5 436.1 757.7 431.8 757 428 C756.3 424.2 755.8 420.4 755.5 417 C755.2 413.6 755.1 410.2 755.5 407.8 C755.9 405.4 757 403.7 758 402.5 C759 401.3 760 400.6 761.3 400.5Z"/>
<path class="t" d="M764 404.5 C765.7 404.6 767.7 406.2 769 408.5 C770.3 410.8 771.3 414.6 772 418 C772.7 421.4 772.9 425.2 773 429 C773.1 432.8 772.8 437.3 772.5 441 C772.2 444.7 771.7 448.4 771 451 C770.3 453.6 769.3 456.4 768.5 456.5 C767.7 456.6 766.9 454.2 766 451.5 C765.1 448.8 764 443.9 763 440 C762 436.1 760.8 432 760 428 C759.2 424 758.7 419.3 758.5 416 C758.3 412.7 758.1 409.9 759 408 C759.9 406.1 762.3 404.4 764 404.5Z"/>
<path class="t" d="M738 391.8 C738 394.8 737.5 403.6 738 410 C738.5 416.4 739.5 423.8 741 430 C742.5 436.2 744.8 442 747 447 C749.2 452 751 455.5 754 460 C757 464.5 763.2 471.7 765 474"/>
<path class="t" d="M743.8 399 C743.8 401.7 743.5 409.5 744 415 C744.5 420.5 745.5 426.2 747 432 C748.5 437.8 750.8 445 753 450 C755.2 455 757.5 458.5 760 462 C762.5 465.5 766.7 469.5 768 471"/>
<path class="t" d="M751 370 C750.7 371.3 749.5 375.3 749 378 C748.5 380.7 747.8 383.5 748 386 C748.2 388.5 749.7 391.8 750 393"/>
<path class="t" d="M771.5 381 C770.4 381.3 767.2 381.7 765 383 C762.8 384.3 760.1 386.6 758 389 C755.9 391.4 753.4 396.2 752.5 397.6"/>
<path class="t" d="M775.5 384 C774.4 384.2 770.9 384.5 769 385 C767.1 385.5 764.8 386.7 764 387"/>
<path class="t" d="M785 401 L785.5 452"/>
<path class="t" d="M788 401.9 L788.5 450.8"/>
<path class="t" d="M791 402.8 L791.5 449.6"/>
<path class="t" d="M733 464 L737 473 L748 477"/>
<path class="m" d="M931.1 405.5 C932.8 403.4 932.9 401.9 935.8 402.4 C938.6 402.9 943.8 405.9 948.2 408.6 C952.6 411.3 957.5 415.3 962.1 418.7 C966.8 422 972.2 425.5 976.1 428.7 C980 432 983.6 434.9 985.4 438 C987.2 441.1 987.4 444 986.9 447.3 C986.4 450.7 984.6 454.8 982.3 458.2 C980 461.5 976.6 463.4 973 467.5 C969.4 471.6 963.4 479.4 960.6 483 C957.7 486.6 959 487.8 955.9 489.2 C952.8 490.6 948.2 492 942 491.5 C935.8 491 926.2 489 918.7 486.1 C911.3 483.1 901.8 477.3 897 473.7 C892.3 470.1 891.1 467 890.1 464.4 C889 461.8 889.2 461 890.8 458.2 C892.5 455.3 897 451 900.1 447.3 C903.2 443.7 906.3 440.1 909.4 436.5 C912.5 432.9 916 429.3 918.7 425.6 C921.5 422 923.6 418.2 925.7 414.8 C927.8 411.4 929.5 407.6 931.1 405.5Z"/>
<path class="m" d="M931.6 412.1 Q932.7 410.1 934.4 411.5 L944.9 419.6 Q946.6 421 948 422.7 L951.5 427 Q952.8 428.7 953.9 430.7 L957.9 437.7 Q959 439.6 959.6 441.7 L961.6 449.9 Q962.1 452 960.6 453.5 L959 455.1 Q957.5 456.6 955.6 457.8 L947 463.2 Q945.1 464.4 943 465.2 L939.4 466.7 Q937.3 467.5 935.3 466.6 L928.5 463.7 Q926.5 462.8 925.2 461 L922 456.4 Q921.1 455.1 921.5 453.5 L921.5 453.5 Q921.8 452 923 450.9 L929.6 444.2 Q931.1 442.7 929.3 441.4 L921.6 435.8 Q920.3 434.9 920.4 433.4 L920.4 433.4 Q920.6 431.8 921.3 430.5 L925.4 422.9 Q926.5 421 927.6 419.1Z"/>
<path class="t" d="M932.5 416.6 Q933.5 414.8 935 416 L944.3 423.2 Q945.9 424.4 947.1 426 L950 429.5 Q951.3 431.1 952.3 432.8 L955.7 438.6 Q956.7 440.4 957.2 442.3 L958.9 449.3 Q959.3 451.2 958 452.7 L957.3 453.3 Q955.9 454.8 954.2 455.8 L946 460.6 Q944.3 461.6 942.5 462.4 L939.5 463.6 Q937.6 464.4 935.8 463.6 L930.2 461.3 Q928.3 460.5 927.2 458.9 L924.7 455.5 Q924.2 454.8 924.6 454 L924.6 454 Q924.9 453.2 925.5 452.6 L933.2 444.5 Q934.5 443 932.9 441.8 L924.4 435.6 Q923.4 434.9 923.7 433.8 L923.7 433.8 Q924 432.6 924.6 431.5 L927.9 425.1 Q928.8 423.3 929.8 421.6Z"/>
<path class="m" d="M934.2 405.5 L948.2 416.3 L949.7 421 L935.8 410.1Z"/>
<path d="M936.6 408.3 L947.4 416.7 L948.5 419.8 L937.6 411.4 Z" fill="#555" stroke="none" opacity="0.6"/>
<path class="t" d="M945.1 404.7 L949 405.5 L949.7 409.4"/>
<path class="t" d="M948.2 408.6 C949 409.6 949.7 411.4 952.8 414.8 C955.9 418.2 963.2 424.4 966.8 428.7 C970.4 433.1 973 437.3 974.5 441.1 C976.1 445 976.6 449.1 976.1 452 C975.6 454.8 972.2 457.2 971.4 458.2"/>
<path class="t" d="M957.5 419.4 C959.8 421.5 967.7 428 971.4 431.8 C975.2 435.7 978.4 439.3 980 442.7 C981.5 446 981.2 449.1 980.7 452 C980.2 454.8 977.5 458.4 976.9 459.7"/>
<path class="t" d="M959 439.6 L966.8 434.9 L976.1 428.7"/>
<path class="t" d="M962.1 452 L976.1 452 L986.9 447.3"/>
<path class="t" d="M957.5 456.6 L971.4 458.2 L982.3 458.2"/>
<path class="t" d="M966.8 428.7 C967.8 429 970.9 429.6 973 430.3 C975 430.9 978.1 432.2 979.2 432.6"/>
<path class="t" d="M900.1 447.3 C902 448.2 907.4 451 911 452.8 C914.6 454.6 920 457.3 921.8 458.2"/>
<path class="t" d="M895.5 455.1 C897.6 456.2 904 460 907.9 462.1 C911.8 464.1 915.4 466.1 918.7 467.5 C922.1 468.9 925.2 470.1 928 470.6 C930.9 471.1 932.7 471.4 935.8 470.6 C938.9 469.8 943 468.3 946.6 465.9 C950.3 463.6 955.7 458.2 957.5 456.6"/>
<path class="t" d="M891.6 462.8 C894.1 464.1 901.8 468.3 906.3 470.6 C910.9 472.9 914.9 475.4 918.7 476.8 C922.6 478.2 926.2 478.8 929.6 479.1 C932.9 479.4 935.5 479.8 938.9 478.3 C942.2 476.9 946.1 473.4 949.7 470.6 C953.4 467.7 956.7 463.4 960.6 461.3 C964.5 459.2 970.9 458.7 973 458.2"/>
<path class="t" d="M893.9 470.6 C896 471.7 902.2 475.6 906.3 477.6 C910.5 479.5 914.6 481 918.7 482.2 C922.9 483.4 927.3 484.4 931.1 484.5 C935 484.7 938.4 484.3 942 483 C945.6 481.7 949.2 479.4 952.8 476.8 C956.5 474.2 961.9 469 963.7 467.5"/>
<path class="t" d="M918.7 467.5 C918.9 469 919.3 473.7 919.5 476.8 C919.8 479.9 920.2 484.5 920.3 486.1"/>
<path class="t" d="M937.3 467.5 C938 469 940.4 472.8 941.2 476.8 C942 480.8 941.9 489 942 491.5"/>
<path class="t" d="M945.1 464.4 C946.4 466.5 950.3 473.7 952.8 476.8 C955.4 479.9 959.3 481.9 960.6 483"/>
<path class="t" d="M909.4 436.5 L915.6 441.1 L920.6 431.8"/>
<path class="t" d="M900.1 447.3 L908.7 451.2 L921.1 455.1"/>
<path class="m" d="M955.9 489.2 L961.4 489.2 L962.4 486.4 L958.3 484.8"/>
<path class="m" d="M676.2 577.3 C677.6 575.2 677.7 573.7 680.1 574.2 C682.5 574.7 686.8 577.7 690.4 580.4 C694.1 583.1 698.2 587.1 702.1 590.5 C706 593.8 710.5 597.3 713.7 600.5 C717 603.8 720 606.7 721.5 609.8 C723 612.9 723.2 615.8 722.8 619.1 C722.4 622.5 720.8 626.6 718.9 630 C717 633.3 714.2 635.2 711.1 639.3 C708.1 643.4 703.2 651.2 700.8 654.8 C698.4 658.4 699.5 659.6 696.9 661 C694.3 662.4 690.4 663.8 685.3 663.3 C680.1 662.8 672.1 660.8 665.8 657.9 C659.6 654.9 651.7 649.1 647.7 645.5 C643.7 641.9 642.8 638.8 641.9 636.2 C641 633.6 641.2 632.8 642.6 630 C644 627.1 647.7 622.8 650.3 619.1 C652.9 615.5 655.5 611.9 658.1 608.3 C660.7 604.7 663.6 601.1 665.8 597.4 C668.1 593.8 669.9 590 671.7 586.6 C673.4 583.2 674.8 579.4 676.2 577.3Z"/>
<path class="m" d="M676.5 583.9 Q677.5 581.9 679.1 583.4 L687.5 591.3 Q689.1 592.8 690.4 594.6 L693.1 598.7 Q694.3 600.5 695.3 602.5 L698.5 609.4 Q699.5 611.4 699.9 613.5 L701.6 621.6 Q702.1 623.8 700.7 625.5 L699.6 626.7 Q698.2 628.4 696.4 629.8 L689.6 634.9 Q687.8 636.2 685.9 637.1 L683.4 638.3 Q681.4 639.3 679.4 638.3 L674.3 635.6 Q672.3 634.6 671.2 632.7 L668.6 628.3 Q667.8 626.9 668.1 625.3 L668.1 625.3 Q668.4 623.8 669.5 622.6 L674.8 616.2 Q676.2 614.5 674.5 613.1 L668.3 607.8 Q667.1 606.7 667.3 605.2 L667.3 605.2 Q667.4 603.6 668 602.2 L671.4 594.8 Q672.3 592.8 673.3 590.8Z"/>
<path class="t" d="M677.3 588.4 Q678.1 586.6 679.6 588 L687 594.8 Q688.5 596.2 689.6 597.9 L691.9 601.2 Q693 602.9 693.9 604.7 L696.7 610.4 Q697.6 612.2 697.9 614.1 L699.4 621.1 Q699.8 623 698.5 624.6 L698.2 625 Q696.9 626.6 695.3 627.7 L688.8 632.2 Q687.2 633.4 685.4 634.3 L683.4 635.3 Q681.6 636.2 679.8 635.3 L675.7 633.2 Q673.9 632.3 672.8 630.6 L670.8 627.3 Q670.4 626.6 670.7 625.8 L670.7 625.8 Q671 625 671.5 624.4 L677.8 616.4 Q679 614.8 677.5 613.5 L670.6 607.5 Q669.7 606.7 670 605.6 L670 605.6 Q670.2 604.4 670.7 603.3 L673.5 597 Q674.3 595.1 675.1 593.3Z"/>
<path class="m" d="M678.8 577.3 L690.4 588.1 L691.7 592.8 L680.1 581.9Z"/>
<path d="M680.7 580.1 L689.8 588.5 L690.7 591.6 L681.6 583.2 Z" fill="#555" stroke="none" opacity="0.6"/>
<path class="t" d="M687.8 576.5 L691.1 577.3 L691.7 581.2"/>
<path class="t" d="M690.4 580.4 C691.1 581.4 691.7 583.2 694.3 586.6 C696.9 590 702.9 596.2 706 600.5 C709 604.9 711.1 609.1 712.4 612.9 C713.7 616.8 714.2 620.9 713.7 623.8 C713.3 626.6 710.5 629 709.8 630"/>
<path class="t" d="M698.2 591.2 C700.1 593.3 706.7 599.8 709.8 603.6 C713 607.5 715.7 611.1 717 614.5 C718.3 617.8 718 620.9 717.6 623.8 C717.2 626.6 714.9 630.2 714.4 631.5"/>
<path class="t" d="M699.5 611.4 L706 606.7 L713.7 600.5"/>
<path class="t" d="M702.1 623.8 L713.7 623.8 L722.8 619.1"/>
<path class="t" d="M698.2 628.4 L709.8 630 L718.9 630"/>
<path class="t" d="M706 600.5 C706.8 600.8 709.4 601.4 711.1 602.1 C712.9 602.7 715.5 604 716.3 604.4"/>
<path class="t" d="M650.3 619.1 C651.8 620 656.4 622.8 659.4 624.6 C662.4 626.4 666.9 629.1 668.4 630"/>
<path class="t" d="M646.4 626.9 C648.2 628 653.6 631.8 656.8 633.9 C660 635.9 663 637.9 665.8 639.3 C668.7 640.7 671.2 641.9 673.6 642.4 C676 642.9 677.5 643.2 680.1 642.4 C682.7 641.6 686.1 640.1 689.1 637.7 C692.2 635.4 696.7 630 698.2 628.4"/>
<path class="t" d="M643.2 634.6 C645.3 635.9 651.7 640.1 655.5 642.4 C659.3 644.7 662.6 647.2 665.8 648.6 C669.1 650 672.1 650.6 674.9 650.9 C677.7 651.2 679.9 651.6 682.7 650.1 C685.5 648.7 688.7 645.2 691.7 642.4 C694.7 639.5 697.6 635.2 700.8 633.1 C704 631 709.4 630.5 711.1 630"/>
<path class="t" d="M645.1 642.4 C646.9 643.5 652 647.4 655.5 649.4 C658.9 651.3 662.4 652.8 665.8 654 C669.3 655.2 673 656.2 676.2 656.3 C679.4 656.5 682.2 656.1 685.3 654.8 C688.3 653.5 691.3 651.2 694.3 648.6 C697.3 646 701.9 640.8 703.4 639.3"/>
<path class="t" d="M665.8 639.3 C666 640.8 666.3 645.5 666.5 648.6 C666.7 651.7 667 656.3 667.1 657.9"/>
<path class="t" d="M681.4 639.3 C681.9 640.8 684 644.6 684.6 648.6 C685.3 652.6 685.2 660.8 685.3 663.3"/>
<path class="t" d="M687.8 636.2 C688.9 638.3 692.2 645.5 694.3 648.6 C696.5 651.7 699.7 653.7 700.8 654.8"/>
<path class="t" d="M658.1 608.3 L663.3 612.9 L667.4 603.6"/>
<path class="t" d="M650.3 619.1 L657.4 623 L667.8 626.9"/>
<path class="m" d="M696.9 661 L701.4 661 L702.3 658.2 L698.8 656.6"/>
<path class="m" d="M644 584.5 Q644 583 645.2 582.2 L648.8 579.8 Q650 579 651.4 579.4 L655.6 580.6 Q657 581 657.7 582.3 L659.3 585.7 Q660 587 659.3 588.3 L656.7 592.7 Q656 594 654.5 594.3 L650.5 595.2 Q649 595.5 648 594.4 L645 591.1 Q644 590 644 588.5Z"/>
<path class="m" d="M646 584 L655 592"/>
<path class="m" d="M649 581 L658 589"/>
<path class="t" d="M652 579.5 L659.5 586"/>
<path class="t" d="M643 586 L650 593"/>
<path class="m" d="M657 581 L661 579.5 L662 583"/>
<path class="m" d="M650 579 L651 577 L654 577.5"/>
<path d="M644.5 584 L650 580 L657 582 L659.5 587 L656 593.5 L649 595 L644.5 590Z" fill="#666" stroke="none" opacity="0.6"/>
<path class="m" d="M604.5 579 C604.8 578.2 605.8 577.5 607 577.5 C608.2 577.5 610.2 577.9 612 579 C613.8 580.1 616.2 582.2 618 584 C619.8 585.8 622 588 623 589.5 C624 591 624.3 592.2 624 593 C623.7 593.8 622.5 594.7 621 594.5 C619.5 594.3 617 593.2 615 592 C613 590.8 610.7 588.7 609 587 C607.3 585.3 605.8 583.3 605 582 C604.2 580.7 604.2 579.8 604.5 579Z"/>
<path class="t" d="M606.5 580.5 C607.4 580.8 610.1 581.3 612 582.5 C613.9 583.7 616.3 585.8 618 587.5 C619.7 589.2 621.3 591.7 622 592.5"/>
<path class="t" d="M613 579.5 L614.5 577.5 L617.5 580 L616.5 582.5"/>
<path d="M605 580 L611 582 L618 587 L623 592.5 L620 594 L614 591.5 L608 586.5Z" fill="#555" stroke="none" opacity="0.65"/>
<path class="d" d="M775 592.5 L842.5 566"/>
<path class="d" d="M750 645 L870 605"/>
<path class="d" d="M832.5 549 L847.5 544"/>
<path class="t" d="M754 597.5 L775 592.5"/>
<path class="t" d="M754.3 598.8 L775.3 593.8 L774.7 591.2 L753.7 596.2Z"/>
<circle cx="754" cy="597.5" r="2" fill="#222"/>
<path class="t" d="M731.5 649.5 L750 645"/>
<path class="t" d="M731.8 650.8 L750.3 646.3 L749.7 643.7 L731.2 648.2Z"/>
<circle cx="731.5" cy="649.5" r="2" fill="#222"/>
<path class="t" d="M812.5 554 L826 551"/>
<path class="t" d="M812.8 555.3 L826.3 552.3 L825.7 549.7 L812.2 552.7Z"/>
<circle cx="812.5" cy="554" r="2" fill="#222"/>
<ellipse cx="779" cy="591" rx="2.6" ry="3.2" fill="#fff" stroke="#555" stroke-width="0.9"/>
<ellipse cx="779" cy="591" rx="1.0" ry="1.3" fill="none" stroke="#777" stroke-width="0.6"/>
<ellipse cx="762.5" cy="639" rx="3" ry="3" fill="#fff" stroke="#555" stroke-width="0.9"/>
<ellipse cx="762.5" cy="639" rx="1.2" ry="1.2" fill="none" stroke="#777" stroke-width="0.6"/>
<ellipse cx="829.5" cy="549" rx="2.4" ry="3" fill="#fff" stroke="#555" stroke-width="0.9"/>
<ellipse cx="829.5" cy="549" rx="1.0" ry="1.2" fill="none" stroke="#777" stroke-width="0.6"/>
<path class="m" d="M791.4 586.9 L793.7 583.3 Q794.5 582 795.9 581.3 L798.6 579.9 Q799.9 579.2 800.8 580.4 L803.4 583.9 Q804.3 585.1 804.6 586.5 L807.7 599"/>
<path class="o" d="M807.7 599 L782.1 639.6"/>
<path class="m" d="M804.9 598.3 L779.8 638.5"/>
<path class="m" d="M791.4 586.9 L786.5 599.2 Q786 600.6 785.2 601.8 L774.4 617.9 Q773.6 619.2 772.2 619.7 L768 621.1 Q766.6 621.5 765.6 622.5 L765.6 622.5 Q764.6 623.5 765.9 624.2 L770 626.5 Q771.3 627.2 772.6 626.6 L773.8 626 Q775.1 625.4 775.6 626.8 L778.6 636.6 Q779 638.1 780.4 638.8 L782.1 639.6"/>
<path class="t" d="M801.5 586.6 L788.3 608.3 L778.2 628.5"/>
<path class="t" d="M795.6 588.2 L784.4 606.8 L775.1 622.6"/>
<path class="t" d="M794.5 582 L795.6 588.2 L801.5 586.6 L799.9 579.2"/>
<path class="m" d="M789 607.7 Q789.4 606.8 790.3 607.2 L792.2 607.9 Q793.1 608.3 792.7 609.2 L791.4 612.4 Q791 613.3 790 612.9 L788.2 612.1 Q787.2 611.7 787.6 610.8Z"/>
<path class="m" d="M783.4 617.3 Q783.8 616.4 784.7 616.8 L786.6 617.6 Q787.5 617.9 787.1 618.9 L785.8 622 Q785.4 622.9 784.5 622.5 L782.6 621.7 Q781.7 621.3 782.1 620.4Z"/>
<path class="t" d="M778.2 626.6 Q778.6 625.7 779.5 626.1 L781.1 626.8 Q782 627.2 781.6 628.2 L780.8 630.3 Q780.4 631.3 779.5 630.9 L777.9 630.1 Q777 629.7 777.4 628.8Z"/>
<path class="t" d="M773.6 619.2 L775.1 625.4"/>
<path class="t" d="M791.4 628.5 L798.4 630.3 L798.1 639.6 L791 637.5Z"/>
<path class="t" d="M786 600.6 L792.2 602.9"/>
<path class="t" d="M780.6 611.4 L786 613.8"/>
<path class="m" d="M847.1 545.3 Q845.7 544.8 846.1 543.4 L848.3 536.2 Q848.8 534.7 850.2 534.3 L862 530.9 Q863.5 530.5 864.9 531 L876 534.7 Q877.4 535.2 877.5 536.7 L878.1 543.3 Q878.2 544.8 876.8 545.4 L871.8 547.6 Q870.5 548.2 869 547.7 L864.9 546.1 Q863.5 545.6 862 545.9 L855.6 547.3 Q854.2 547.6 852.8 547.1Z"/>
<path class="m" d="M850.3 535.5 L863.5 532.1 L875.9 536.1"/>
<path class="t" d="M854.2 547.6 L855.7 538.6 L863.5 536.3 L863.5 545.6"/>
<path class="t" d="M863.5 536.3 L875.1 539.4 L878.2 544.8"/>
<path class="t" d="M869.7 537.8 L870.5 548.2"/>
<path class="o" d="M851.9 546.3 L841.8 564.9 L835.6 572.7"/>
<path class="m" d="M854.2 547.9 L844.1 565.7"/>
<path class="o" d="M851.9 546.3 L866.9 558"/>
<path class="o" d="M866.9 558 L861.9 565.7 L839.5 594.4"/>
<path class="t" d="M864.3 558.7 L857.3 571.1"/>
<path class="m" d="M847.9 571 Q847.2 570.4 848 569.8 L851.8 567.1 Q852.6 566.5 853.5 567 L861.1 572.1 Q861.9 572.7 861.4 573.5 L857.8 578.8 Q857.3 579.7 856.5 579Z"/>
<path d="M854.2 571.1 L856.5 568.0 L857.6 571.9" fill="none" stroke="#333" stroke-width="0.8"/>
<path class="m" d="M866.2 572.9 Q865.8 569.9 868.6 568.9 L874.6 566.9 Q877.4 565.9 879.1 568.4 L881.2 571.7 Q882.8 574.2 881.3 576.8 L877.1 583.8 Q875.6 586.3 872.9 584.9 L870.1 583.4 Q867.5 582 867.1 579Z"/>
<path class="t" d="M868 573.6 Q867.7 571.1 870 570.3 L874.4 568.8 Q876.8 568 878.1 570.2 L879.5 572.4 Q880.8 574.5 879.5 576.7 L876.3 581.7 Q874.9 583.8 872.7 582.7 L871.1 581.9 Q868.9 580.7 868.6 578.3Z"/>
<path class="m" d="M878.3 549.4 Q878.2 547.9 879.7 548.1 L886.8 549 Q888.3 549.1 889.6 549.8 L893.9 552.1 Q895.2 552.9 894.8 554.3 L894.1 556.5 Q893.7 558 892.3 558.5 L888.1 560.1 Q886.7 560.6 885.3 560 L880.4 558.1 Q879 557.5 878.9 556Z"/>
<path class="t" d="M883.6 548.7 L882.8 558.7"/>
<path class="t" d="M888.3 549.1 L886.7 560.6"/>
<path class="t" d="M879 552.5 L893.7 555.3"/>
<path class="t" d="M889.8 550.2 L895.2 551 L896.8 554.4 L893.7 558"/>
<path d="M889.5 550.4 L894.5 551.3 L895.2 553.2 L890.1 552.2 Z" fill="#444" stroke="none"/>
<path class="m" d="M870.5 548.2 C871.9 549.8 876.3 555.8 879 558 C881.7 560.1 884.7 558.9 886.7 561.1 C888.8 563.3 890 567.7 891.4 571.1 C892.8 574.6 895 578.4 895.2 582 C895.5 585.6 894.1 589.2 892.9 592.8 C891.8 596.5 890.6 600.3 888.3 603.7 C885.9 607 881.6 610.9 879 613 C876.4 615.1 873.8 615.8 872.8 616.4"/>
<path class="t" d="M889.8 572.7 C890.3 574.2 892.8 578.8 892.9 582 C893.1 585.2 891.8 588.7 890.8 592.1 C889.7 595.4 888.5 599 886.4 602.1 C884.3 605.3 880.3 609.1 878.2 611.1 C876.1 613.1 874.3 613.7 873.5 614.2"/>
<path class="t" d="M887.5 574.2 C888 575.5 890.3 579.1 890.4 582 C890.6 584.8 889.6 588.2 888.6 591.3 C887.6 594.4 886.4 597.6 884.6 600.6 C882.7 603.6 878.6 607.7 877.4 609.1"/>
<path class="t" d="M895.2 582 C895.4 581 896.5 577.6 896.3 575.8 C896.2 574 895.3 571.9 894.5 571.1 C893.6 570.4 891.9 571.1 891.4 571.1"/>
<path class="m" d="M835.6 572.7 L815.9 586.7 Q813.9 588.2 813.5 590.7 L813 593.8 Q812.6 596.2 814.1 598.3 L815.6 600.4 Q817 602.4 819.3 603.4 L839.5 612.3 Q841.8 613.3 842.4 610.9 L844.3 603.3 Q844.9 600.9 847.2 599.9 L853.5 597 Q855.7 595.9 858.2 595.3 L867.2 593.1 Q869.7 592.5 870 595 L871.2 604.3 Q871.5 606.8 871.9 609.3 L872.8 616.4"/>
<path class="t" d="M836.4 574.5 L816.2 589.4 L815.4 596.2 L818.5 601.2"/>
<path class="t" d="M821.6 585.1 L820.9 592.8 L824 604.5"/>
<path class="m" d="M839.5 594.4 L838.7 600.6 L844.9 600.9"/>
<path class="t" d="M832.5 599 L841.8 603.7"/>
<path class="t" d="M825.4 600.8 Q825.5 599.8 826.4 600.2 L829.2 601.4 Q830.2 601.8 829.9 602.8 L829.6 604.3 Q829.4 605.2 828.5 604.8 L826 603.8 Q825 603.4 825.2 602.4Z"/>
<path class="t" d="M844.9 600.9 L845.7 609.9"/>
<path class="t" d="M848 592.8 C849.3 592.4 853.1 591 855.7 590.5 C858.3 590 861.2 589.4 863.5 589.7 C865.8 590.1 868.6 592.1 869.7 592.5"/>
<path class="t" d="M841.8 585.1 C842.8 585.6 845.9 587.7 848 588.2 C850 588.7 851.9 589.2 854.2 588.2 C856.5 587.2 860.6 583 861.9 582"/>
<path class="t" d="M869.7 592.5 L868.9 585.1 L863.5 580.4"/>
<path d="M836.8 592.8 L839.9 590.5 L842.1 594.1 L839.5 597.2 Z" fill="#333" stroke="none"/>
<path class="m" d="M909 551 C909.7 551.7 912 553.5 913 555 C914 556.5 914.7 558.3 915 560 C915.3 561.7 915.4 563.5 915 565 C914.6 566.5 913.7 567.8 912.5 569 C911.3 570.2 909.7 571.1 908 572 C906.3 572.9 903.4 574.1 902.5 574.5"/>
<path class="t" d="M907.5 552.5 C908.2 553.2 910.6 555.1 911.5 556.5 C912.4 557.9 912.8 559.5 913 561 C913.2 562.5 912.9 564.3 912.5 565.5 C912.1 566.7 911.6 567.2 910.5 568 C909.4 568.8 907.5 569.8 906 570.5 C904.5 571.2 902.2 572.2 901.5 572.5"/>
<path class="t" d="M909 551 L907.5 552.5 L908.5 556"/>
<path class="t" d="M902.5 574.5 L901.5 572.5 L903 578 L904.5 576.5"/>
<path class="m" d="M1013 428.7 Q1013.3 427.2 1014.7 426.7 L1018.1 425.4 Q1019.5 424.9 1020.5 425.9 L1023.8 429.2 Q1024.9 430.3 1025 431.8 L1025.5 436.5 Q1025.7 438 1024.2 438.4 L1020.9 439.2 Q1019.5 439.6 1018.2 438.8 L1013 435.7 Q1011.7 434.9 1012 433.5Z"/>
<path class="t" d="M1016.4 428.7 L1020.2 428 L1021.8 432.6 L1017.9 434.2Z"/>
<path class="m" d="M1025.7 438 C1026.4 439.1 1030.1 441.4 1030.3 444.2 C1030.6 447.1 1028.6 452 1027.2 455.1 C1025.8 458.2 1023.6 460.3 1021.8 462.8 C1020 465.4 1018.6 467 1016.4 470.6 C1014.2 474.2 1010.9 481.4 1008.6 484.5 C1006.3 487.6 1003.5 488.4 1002.4 489.2"/>
<path class="m" d="M1004 434.9 C1004.2 436.5 1006 440.6 1005.5 444.2 C1005 447.9 1003.2 452.2 1000.9 456.6 C998.5 461 993.6 467.2 991.6 470.6 C989.5 473.9 987.7 474.2 988.5 476.8 C989.3 479.4 993.9 484 996.2 486.1 C998.5 488.1 1001.4 488.7 1002.4 489.2"/>
<path class="m" d="M1004 434.9 L1011.7 434.9"/>
<path class="t" d="M1004 434.9 L1003.2 439.6 L1008.6 443.5 L1011.7 434.9"/>
<path class="o" d="M979.2 469 C980 468.8 982.3 468.3 983.8 467.5 C985.4 466.7 986.7 465.4 988.5 464.4 C990.3 463.4 993.6 461.8 994.7 461.3"/>
<path class="t" d="M980 470.9 C980.9 470.6 983.7 470 985.4 469.3 C987.1 468.6 988.3 467.7 990 466.7 C991.7 465.7 994.5 463.7 995.5 463.1"/>
<path class="o" d="M1029.5 443.5 C1029.8 443.9 1031.7 443.9 1031.1 446.1 C1030.4 448.3 1027.6 453.6 1025.7 456.6 C1023.7 459.7 1021.8 461.4 1019.5 464.4 C1017.1 467.4 1013 472.8 1011.7 474.5"/>
<path class="t" d="M1008.6 443.5 C1009.9 443.9 1013.8 445.9 1016.4 445.8 C1019 445.7 1022.8 443.2 1024.1 442.7"/>
<path class="t" d="M1005.5 448.9 C1007.1 449.4 1011.5 451.7 1014.8 452 C1018.2 452.2 1023.9 450.7 1025.7 450.4"/>
<path class="m" d="M997.8 452 L1016.4 458.2 L1004 483 L988.5 476.8Z"/>
<path d="M997.8 452.0 L1016.4 458.2 L1004.0 483.0 L988.5 476.8 Z" fill="#444" stroke="none" opacity="0.45"/>
<path class="m" d="M997.8 452 L988.5 476.8"/>
<path class="m" d="M1000.9 453 L991.1 477.8"/>
<path class="m" d="M1004 454.1 L993.6 478.8"/>
<path class="m" d="M1007.1 455.1 L996.2 479.9"/>
<path class="m" d="M1010.2 456.1 L998.8 480.9"/>
<path class="m" d="M1013.3 457.2 L1001.4 481.9"/>
<path class="m" d="M1016.4 458.2 L1004 483"/>
<path class="t" d="M994.7 460.5 L1012.2 466.7"/>
<path class="t" d="M991.9 468.3 L1008.3 474.5"/>
<path class="t" d="M1002.4 489.2 L1004 483"/>
<path class="t" d="M1008.6 484.5 L1013.3 483 L1011.7 474.5"/>
<path class="t" d="M996.2 486.1 L999.3 489.2 L1004 490.4"/>
<path class="m" d="M250.3 217.5 L250.3 222.5 L248.6 223.2"/>
<path class="t" d="M249 217.3 L251.6 217.3"/>
<ellipse cx="249.8" cy="230" rx="2.4" ry="1.7" fill="#444" stroke="#333" stroke-width="0.6"/>
<ellipse cx="249.8" cy="233.2" rx="2.4" ry="1.7" fill="#555" stroke="#333" stroke-width="0.6"/>
<path class="m" d="M150.5 330.1 Q150 329 150.8 328.2 L152.2 326.8 Q153 326 154.2 326.1 L155.8 326.4 Q157 326.5 157.7 327.5 L158.3 328.5 Q159 329.5 158.3 330.5 L157.2 332 Q156.5 333 155.3 333.1 L153.2 333.4 Q152 333.5 151.5 332.4Z"/>
<path class="m" d="M153.9 335.4 Q153.5 334.5 154.5 334.2 L163.5 331.3 Q164.5 331 164.9 331.9 L171.1 347.1 Q171.5 348 170.6 348.3 L161.4 351.7 Q160.5 352 160.1 351.1Z"/>
<path class="t" d="M156 334 L163 351"/>
<path class="t" d="M158.5 340 L168.5 337"/>
<path class="t" d="M160.5 345 L170 342"/>
<path class="m" d="M162 352 L164.5 357 L169.5 355.5 L167 350"/>
<path d="M154.5 335 L164 332 L170.5 348 L161 351Z" fill="#888" stroke="none" opacity="0.35"/>
<ellipse cx="174" cy="412.5" rx="4.2" ry="5.6" transform="rotate(-15 174 412.5)" fill="#fff" stroke="#333" stroke-width="1.1"/>
<path class="m" d="M177.5 408.5 L184 406.5 L186.5 407.5 L187.5 410 L184 414 L178.5 416"/>
<path class="t" d="M181 407.5 L182.5 414.5"/>
<path class="t" d="M184 406.5 L183.5 404.5 L186.5 405.5 L186.5 407.5"/>
<path class="t" d="M197 378 L204 377.8 L204 380.8 L197 381Z"/>
<path class="g" d="M199 378 L199 381"/>
<path class="g" d="M201 378 L201 381"/>
<circle cx="196" cy="379.4" r="1.9" fill="#222"/>
<ellipse cx="210.6" cy="379.6" rx="2.3" ry="3.3" fill="#aaa" stroke="#333" stroke-width="1.3"/>
<ellipse cx="210.6" cy="379.6" rx="0.9" ry="1.3" fill="#fff"/>
<path class="t" d="M390 594.6 L398 593.4 L398.4 595.8 L390.4 597.2Z"/>
<circle cx="389.3" cy="596" r="1.8" fill="#222"/>
<ellipse cx="403.8" cy="592.2" rx="2.8" ry="3.3" fill="#ddd" stroke="#444" stroke-width="1.2"/>
<ellipse cx="403.8" cy="592.2" rx="1.1" ry="1.4" fill="#fff" stroke="#555" stroke-width="0.6"/>
<path class="m" d="M438 608.8 Q438 608 438.7 607.7 L440.8 606.8 Q441.5 606.5 442.1 607.1 L442.9 607.9 Q443.5 608.5 443.4 609.3 L443.1 611.2 Q443 612 442.2 612.1 L440.8 612.4 Q440 612.5 439.4 611.9 L438.6 611.1 Q438 610.5 438 609.7Z"/>
<path d="M438.5 608.5 L441.5 607 L443 609 L442.5 611.5 L440 612Z" fill="#555" stroke="none" opacity="0.7"/>
<path class="o" d="M329 564.3 Q328.6 563.4 329.3 562.7 L333.3 559.3 Q334 558.6 335 558.5 L341.3 558.1 Q342.3 558 343 558.7 L353.8 568.2 Q354.5 568.9 354.2 569.9 L353.5 572 Q353.2 573 352.2 573.1 L344.6 574.2 Q343.6 574.3 342.7 573.8 L330.9 567.3 Q330 566.8 329.6 565.9Z"/>
<path class="t" d="M331 565 L336 561 L342 560.5 L352 569.5"/>
<path class="t" d="M336 561 L346 571.5"/>
<path class="t" d="M340 560.5 L349.5 570.5"/>
<path class="t" d="M333.5 566 L346 566.5"/>
<path d="M330 564 L334.5 559.5 L342 559 L353.5 569 L352.5 572.5 L343.8 573.5 L331 566.5Z" fill="#777" stroke="none" opacity="0.35"/>
<ellipse cx="374.5" cy="497.2" rx="2.4" ry="2.8" fill="#ccc" stroke="#444" stroke-width="1.1"/>
<path class="m" d="M381.1 491.8 Q381 491 381.7 490.7 L384.3 489.8 Q385 489.5 385.8 489.7 L387.7 490.3 Q388.5 490.5 388.4 491.3 L388.1 493.2 Q388 494 387.3 494.3 L384.7 495.2 Q384 495.5 383.3 495.1 L382.2 494.4 Q381.5 494 381.4 493.2Z"/>
<path class="t" d="M383 490.5 L383.5 495"/>
<path class="t" d="M386 490 L386.3 494.5"/>
<path class="d" d="M530 447.5 L570 476"/>
<path class="g" d="M512.5 443 L530 447.5"/>
<path class="t" d="M566.5 473.5 L569.5 472.5 L572.5 477 L570.5 478.5Z"/>
<circle cx="572.3" cy="478.5" r="1.4" fill="#222"/>
<path class="l" d="M201 179.5 L249 218"/>
<path class="l" d="M180 217.5 L247.5 229.5"/>
<path class="l" d="M171 285 L197 377"/>
<path class="l" d="M210 286 L210 376"/>
<path class="l" d="M87.5 299 L152.5 336"/>
<path class="l" d="M82.5 339 L170 409"/>
<path class="l" d="M354.5 201.8 L230 479"/>
<path class="l" d="M391.8 200 L400 380"/>
<path class="l" d="M427.3 201.8 L522.5 300"/>
<path class="l" d="M867.5 274 L794 299"/>
<path class="l" d="M956 375 L951 420"/>
<path class="l" d="M1005 379 L1011 432.5"/>
<path class="l" d="M356.4 452.7 L373.6 494.5"/>
<path class="l" d="M390 452.7 L385.5 490"/>
<path class="l" d="M572.5 478 L599 480"/>
<path class="l" d="M611 532 L646 582"/>
<path class="l" d="M661 532 L680 575"/>
<path class="l" d="M795 524 L812.5 552.5"/>
<path class="l" d="M826 524 L829 546"/>
<path class="l" d="M722.5 560 L757.5 594"/>
<path class="l" d="M722.5 560 L732.5 647.5"/>
<path class="l" d="M757.5 559 L779 589"/>
<path class="l" d="M976 562.5 L914 567.5"/>
<path class="l" d="M971 606 L895 594"/>
<path class="l" d="M167.5 658 L203.5 592.4"/>
<path class="l" d="M335 574 L329 660"/>
<path class="l" d="M390 597.5 L371 660"/>
<path class="l" d="M404.5 595 L412.5 660"/>
<path class="l" d="M440.5 612.5 L449 660"/>
<path class="l" d="M612.5 592.5 L591 659"/>
<path class="l" d="M764 642.5 L772.5 661"/>
<path class="l" d="M840 664 L795 636"/>
<text x="181.8" y="177.5">13</text>
<text x="159.3" y="222.5">14</text>
<text x="159" y="282">25</text>
<text x="201.5" y="282">26</text>
<text x="65" y="304">12</text>
<text x="65.5" y="343">11</text>
<text x="389.2" y="180">2</text>
<text x="868.5" y="277">1</text>
<text x="972" y="360.5">29</text>
<text x="347" y="449">18</text>
<text x="384.5" y="449">17</text>
<text x="600.5" y="484.5">27</text>
<text x="604" y="530">5</text>
<text x="655.5" y="530">4</text>
<text x="785" y="522.5">16</text>
<text x="817.5" y="522.5">24</text>
<text x="711.5" y="556">15</text>
<text x="747.5" y="556">24</text>
<text x="979" y="569">8</text>
<text x="973.5" y="614">7</text>
<text x="159.5" y="674.5">3</text>
<text x="318.5" y="675.5">10</text>
<text x="356.5" y="675.5">25</text>
<text x="402.5" y="675.5">26</text>
<text x="444.5" y="675.5">9</text>
<text x="580" y="675.5">28</text>
<text x="767.5" y="675.5">24</text>
<text x="842" y="675.5">6</text>
</svg>
</body>
</html>
